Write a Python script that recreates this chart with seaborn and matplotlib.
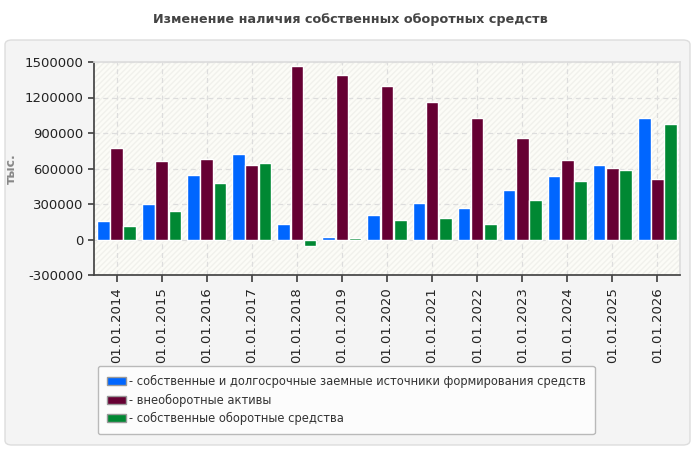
import numpy as np
import pandas as pd
import matplotlib
matplotlib.use("Agg")
import matplotlib.pyplot as plt
import seaborn as sns
from matplotlib.patches import FancyBboxPatch, Rectangle, Patch

dates = ["01.01.2014", "01.01.2015", "01.01.2016", "01.01.2017", "01.01.2018",
         "01.01.2019", "01.01.2020", "01.01.2021", "01.01.2022", "01.01.2023",
         "01.01.2024", "01.01.2025", "01.01.2026"]
sources = [160000, 296000, 541000, 719000, 135000, 17000, 203000, 305000,
           262000, 415000, 533000, 626000, 1024000]
noncurrent = [770000, 660000, 677000, 626000, 1464000, 1387000, 1294000, 1159000,
              1024000, 854000, 668000, 601000, 508000]
working = [110000, 245000, 474000, 643000, -59000, 10000, 169000, 178000,
           135000, 338000, 491000, 584000, 973000]
series_names = ["- собственные и долгосрочные заемные источники формирования средств",
                "- внеоборотные активы",
                "- собственные оборотные средства"]
colors = ["#0066ff", "#660033", "#008833"]

df = pd.DataFrame({
    "date": dates * 3,
    "value": sources + noncurrent + working,
    "series": [series_names[0]] * 13 + [series_names[1]] * 13 + [series_names[2]] * 13,
})

sns.set_theme(style="white")
plt.rcParams["font.family"] = ["DejaVu Sans"]

fig = plt.figure(figsize=(7, 4.5), dpi=100)
fig.patch.set_facecolor("white")

# panel behind the chart
panel = FancyBboxPatch((5 / 700, 5 / 450), 685 / 700, 405 / 450,
                       boxstyle="round,pad=0,rounding_size=0.01",
                       transform=fig.transFigure, facecolor="#f4f4f4",
                       edgecolor="#dddddd", linewidth=1, zorder=-10)
fig.patches.append(panel)

fig.text(0.5, 1 - 20 / 450, "Изменение наличия собственных оборотных средств",
         ha="center", va="center", fontsize=9.2, fontweight="bold", color="#444444")

ax = fig.add_axes([94 / 700, 1 - 275 / 450, 586 / 700, 213 / 450])
ax.set_facecolor("#fcfcf7")
ax.add_patch(Rectangle((0, 0), 1, 1, transform=ax.transAxes, facecolor="none",
                       edgecolor="#f1f1ec", hatch="//////", linewidth=0, zorder=0))

sns.barplot(data=df, x="date", y="value", hue="series", palette=colors,
            width=0.88, gap=0.05, saturation=1, ax=ax, legend=False, zorder=3)

ax.set_ylim(-300000, 1500000)
ax.set_xlim(-0.5, 12.5)
ax.set_yticks(np.arange(-300000, 1500001, 300000))
ax.set_yticklabels([str(v) for v in np.arange(-300000, 1500001, 300000)])
ax.grid(True, linestyle=(0, (4, 3)), color="#dddddd", linewidth=0.9, zorder=1)
ax.set_axisbelow(True)
ax.tick_params(axis="x", rotation=90, labelsize=9.5, colors="#222222",
               length=5, bottom=True, color="#444444")
ax.tick_params(axis="y", labelsize=9.5, colors="#222222", length=4, left=True,
               color="#444444")
ax.set_xlabel("")
ax.set_ylabel("тыс.", fontsize=9, color="#888888", fontweight="bold")
ax.yaxis.set_label_coords(-0.13, 0.5)
for s in ["top", "right"]:
    ax.spines[s].set_color("#dddddd")
for s in ["left", "bottom"]:
    ax.spines[s].set_color("#444444")

handles = [Patch(facecolor=c, edgecolor="#999999", label=n) for c, n in zip(colors, series_names)]
leg = fig.legend(handles=handles, loc="upper left",
                 bbox_to_anchor=(98 / 700, 1 - 366 / 450), borderaxespad=0, fontsize=8.3,
                 frameon=True, fancybox=True, handlelength=1.6, handleheight=0.7,
                 handletextpad=0.25, labelspacing=0.45, borderpad=0.8)
leg.get_frame().set_facecolor("white")
leg.get_frame().set_edgecolor("#aaaaaa")
for t in leg.get_texts():
    t.set_color("#333333")

fig.savefig("out.png", dpi=100)
